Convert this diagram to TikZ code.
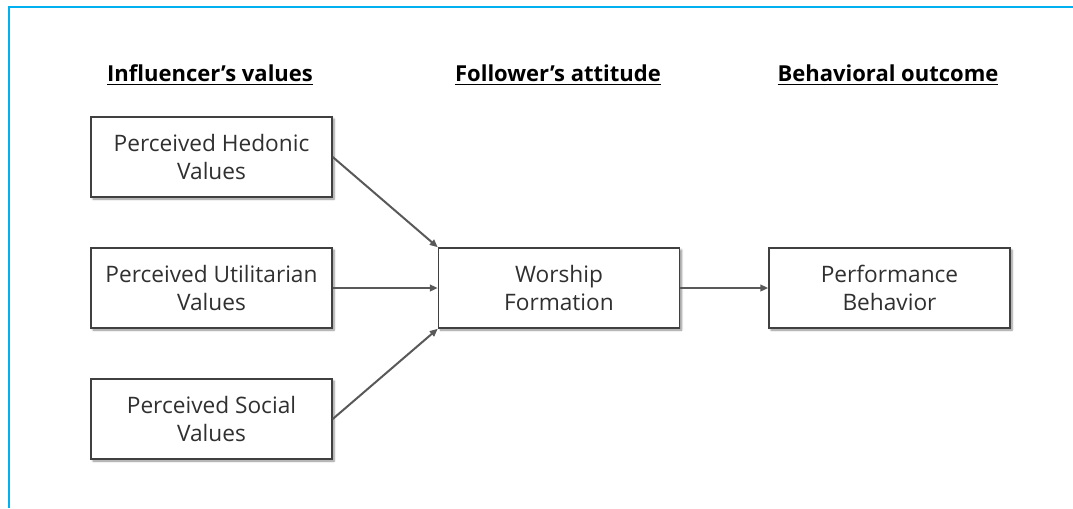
\documentclass[tikz,border=0pt]{standalone}
\usepackage{fontspec}
\setmainfont{Open Sans}
\usetikzlibrary{shadows.blur,arrows.meta}
\definecolor{frameblue}{HTML}{00B0F0}
\definecolor{boxline}{HTML}{404040}
\definecolor{boxtext}{HTML}{303030}
\definecolor{arrowgray}{HTML}{595959}
\begin{document}
\begin{tikzpicture}[x=0.75pt,y=-0.75pt,
  stagebox/.style={draw=boxline,line width=1.1pt,fill=white,
    minimum width=180.75pt,minimum height=60pt,align=center,
    text=boxtext,font=\fontsize{17}{20.5}\selectfont,
    blur shadow={shadow xshift=1.5pt,shadow yshift=-1.5pt,shadow blur steps=6,shadow blur radius=1.5pt,shadow opacity=45}},
  header/.style={font=\bfseries\fontsize{16.5}{19}\selectfont,text=black},
  link/.style={draw=arrowgray,line width=1.5pt,-{Triangle[length=6pt,width=5pt]}}]
\useasboundingbox (0,0) rectangle (1073,508);
% frame lines along the top and left edges
\draw[frameblue,line width=1.8pt] (9,508) -- (9,7) -- (1073,7);
% column headings
\node[header] (h1) at (210,75) {\underline{Influencer’s values}};
\node[header] (h2) at (558,75) {\underline{Follower’s attitude}};
\node[header] (h3) at (888,75) {\underline{Behavioral outcome}};
% boxes
\node[stagebox] (hed) at (211.5,157) {Perceived Hedonic\\Values};
\node[stagebox] (uti) at (211.5,288) {Perceived Utilitarian\\Values};
\node[stagebox] (soc) at (211.5,419) {Perceived Social\\Values};
\node[stagebox] (wor) at (559,288) {Worship\\Formation};
\node[stagebox] (per) at (889.5,288) {Performance\\Behavior};
% connectors
\draw[link] (hed.east) -- (wor.north west);
\draw[link] (uti.east) -- (wor.west);
\draw[link] (soc.east) -- (wor.south west);
\draw[link] (wor.east) -- (per.west);
\end{tikzpicture}
\end{document}
